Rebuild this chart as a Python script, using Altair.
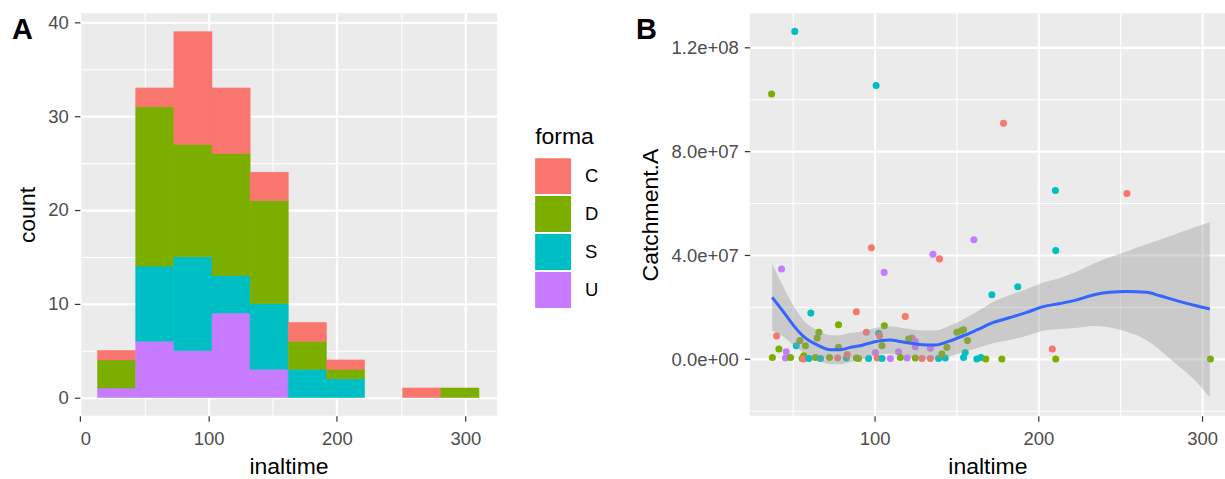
import altair as alt
import pandas as pd

FONT = "Liberation Sans"

# ---------------- Panel A : stacked histogram ----------------
bin_lo = [13.6, 43.3, 73.0, 102.7, 132.4, 162.1, 191.8, 221.5, 251.2, 280.9]
bin_hi = [43.3, 73.0, 102.7, 132.4, 162.1, 191.8, 221.5, 251.2, 280.9, 310.6]
count_C = [1, 2, 12, 7, 3, 2, 1, 0, 1, 0]
count_D = [3, 17, 12, 13, 11, 3, 1, 0, 0, 1]
count_S = [0, 8, 10, 4, 7, 3, 2, 0, 0, 0]
count_U = [1, 6, 5, 9, 3, 0, 0, 0, 0, 0]

formas = ["C", "D", "S", "U"]
colors = ["#F8766D", "#7CAE00", "#00BFC4", "#C77CFF"]

# ---------------- Panel B : scatter + smooth ----------------
pt_x = [51.2, 37.0, 100.9, 178.7, 210.4, 254.1, 160.6, 135.6, 139.6, 98.0,
        105.8, 43.1, 210.6, 187.4, 171.6, 61.0, 88.8, 118.7, 77.9, 105.9,
        40.1, 65.9, 64.9, 54.3, 57.7, 52.1, 41.5, 46.0, 37.5, 45.5,
        48.6, 55.7, 56.7, 56.5, 59.8, 63.8, 66.9, 72.4, 77.4, 77.9,
        82.7, 83.2, 88.8, 94.9, 102.4, 103.0, 122.8, 124.8, 120.7, 124.8,
        134.0, 150.2, 152.9, 144.1, 104.5, 100.4, 114.6, 90.2, 96.3, 101.5,
        104.5, 109.6, 115.7, 119.8, 124.8, 128.9, 134.0, 139.0, 143.1, 141.1,
        154.3, 154.3, 156.7, 208.5, 155.3, 162.4, 164.9, 167.9, 177.7, 210.6,
        305.1]
pt_y = [126.3, 102.2, 105.4, 90.9, 65.0, 63.8, 46.0, 40.4, 38.6, 42.9,
        33.4, 34.7, 41.8, 27.9, 24.8, 17.7, 18.2, 16.4, 13.2, 12.8,
        8.9, 10.3, 8.1, 7.1, 5.1, 5.1, 3.9, 2.8, 0.6, 0.4,
        0.6, 0.2, 1.3, 0.0, 0.2, 0.6, 0.2, 0.6, 0.4, 4.5,
        0.4, 1.7, 0.4, 10.3, 9.9, 9.0, 8.1, 6.8, 7.7, 4.7,
        4.2, 10.3, 10.9, 4.5, 5.1, 2.5, 2.8, 0.2, 0.2, 0.4,
        0.2, 0.2, 0.6, 0.4, 0.4, 0.2, 0.2, 0.2, 0.4, 1.9,
        0.6, 11.3, 7.1, 3.9, 2.5, 0.0, 0.6, 0.0, 0.0, 0.0,
        0.0]
pt_forma = ["S", "D", "S", "C", "S", "C", "U", "U", "C", "C",
            "U", "U", "S", "S", "S", "S", "C", "C", "D", "D",
            "C", "D", "D", "D", "D", "S", "D", "U", "D", "U",
            "D", "D", "D", "C", "S", "D", "S", "D", "C", "D",
            "S", "C", "D", "C", "S", "C", "C", "U", "D", "U",
            "U", "D", "D", "D", "D", "U", "U", "D", "S", "C",
            "S", "U", "D", "U", "D", "C", "C", "S", "S", "D",
            "S", "D", "D", "C", "S", "S", "S", "D", "D", "D",
            "D"]

sm_x = [37.4, 44.5, 50.6, 56.7, 64.9, 73.0, 79.1, 85.2, 90.0, 98.4,
        108.5, 118.7, 128.9, 137.0, 145.1, 154.3, 162.4, 172.6, 182.7, 192.9,
        203.0, 213.2, 223.4, 233.5, 243.7, 253.9, 266.1, 274.2, 284.4, 294.5,
        304.7]
sm_y = [23.8, 18.0, 12.8, 8.6, 5.4, 3.6, 3.6, 4.5, 5.0, 6.4,
        7.3, 6.4, 5.5, 5.4, 6.8, 9.0, 11.2, 14.1, 16.0, 18.0,
        20.2, 21.4, 22.8, 24.7, 25.7, 26.0, 25.7, 24.4, 22.5, 20.8,
        19.3]
sm_lo = [11.0, 8.5, 5.3, 2.4, -0.4, -2.0, -2.0, -1.1, -0.4, 1.1,
         2.0, 1.0, 0.0, -0.2, 1.0, 2.7, 4.2, 6.1, 7.3, 9.0,
         10.9, 11.6, 12.0, 12.7, 12.2, 10.5, 7.2, 3.5, -2.0, -7.5,
         -14.8]
sm_hi = [36.6, 27.5, 20.3, 14.8, 11.2, 9.2, 9.2, 10.1, 10.4, 11.7,
         12.6, 11.8, 11.0, 11.0, 12.6, 15.3, 18.2, 22.1, 24.7, 27.0,
         29.5, 31.2, 33.6, 36.7, 39.2, 41.5, 44.2, 46.0, 48.3, 50.6,
         52.7]

# tick definitions
a_x_major = [0, 100, 200, 300]
a_x_minor = [50, 150, 250]
a_y_major = [0, 10, 20, 30, 40]
a_y_minor = [5, 15, 25, 35]
b_x_major = [100, 200, 300]
b_x_minor = [50, 150, 250]
b_y_major = [0, 40000000, 80000000, 120000000]
b_y_labels = ["0.0e+00", "4.0e+07", "8.0e+07", "1.2e+08"]
b_y_minor = [-20000000, 20000000, 60000000, 100000000]

# ---------------- build tables ----------------
counts_by_forma = {"C": count_C, "D": count_D, "S": count_S, "U": count_U}
rows = []
for i, (lo, hi) in enumerate(zip(bin_lo, bin_hi)):
    base = 0
    for f in ["U", "S", "D", "C"]:  # ggplot stacks U at the bottom, C on top
        c = counts_by_forma[f][i]
        if c > 0:
            rows.append({"lo": lo, "hi": hi, "forma": f, "count": c,
                         "y0": base, "y1": base + c})
            base += c
hist_df = pd.DataFrame(rows)

pts_df = pd.DataFrame({"x": pt_x, "y": [v * 1e6 for v in pt_y], "forma": pt_forma})
sm_df = pd.DataFrame({"x": sm_x,
                      "y": [v * 1e6 for v in sm_y],
                      "lo": [v * 1e6 for v in sm_lo],
                      "hi": [v * 1e6 for v in sm_hi]})


def js_list(vals):
    return "[" + ",".join(str(v) for v in vals) + "]"


def make_axis(major, minor, title_pad, label_pad, label_expr=None):
    test = "indexof(" + js_list(major) + ", datum.value) >= 0"
    if label_expr is None:
        label_expr = "(" + test + ") ? datum.label : ''"
    return alt.Axis(
        values=sorted(major + minor),
        labelExpr=label_expr,
        gridWidth={"condition": {"test": test, "value": 2.2}, "value": 1.1},
        tickOpacity={"condition": {"test": test, "value": 1}, "value": 0},
        labelPadding=label_pad,
        titlePadding=title_pad,
    )


b_label_expr = " : ".join(
    "datum.value == {} ? '{}'".format(v, l) for v, l in zip(b_y_major, b_y_labels)
) + " : ''"

color_scale = alt.Scale(domain=formas, range=colors)

# ---------------- Panel A ----------------
bars = alt.Chart(hist_df).mark_rect(strokeWidth=0.6).encode(
    x=alt.X("lo:Q", title="inaltime",
            scale=alt.Scale(domain=[-0.2, 324.8], nice=False, zero=False),
            axis=make_axis(a_x_major, a_x_minor, 8, 8)),
    x2="hi:Q",
    y=alt.Y("y0:Q", title="count",
            scale=alt.Scale(domain=[-1.95, 40.95], nice=False, zero=False),
            axis=make_axis(a_y_major, a_y_minor, 8, 6)),
    y2="y1:Q",
    color=alt.Color("forma:N", scale=color_scale,
                    legend=alt.Legend(title="forma", orient="none", legendX=456, legendY=113,
                                      symbolType="square", symbolSize=1296, symbolStrokeWidth=0,
                                      rowPadding=2, labelOffset=14, titlePadding=9, padding=0,
                                      titleFont=FONT, labelFont=FONT, titleFontSize=23,
                                      labelFontSize=18.5, titleColor="black", labelColor="black",
                                      titleFontWeight="normal")),
    stroke=alt.Stroke("forma:N", scale=color_scale, legend=None),
)

lab_a = alt.Chart(pd.DataFrame({"label": ["A"]})).mark_text(
    align="left", baseline="top", fontSize=29, fontWeight="bold", font=FONT, color="black"
).encode(text="label:N", x=alt.value(-68), y=alt.value(3))

panel_a = alt.layer(bars, lab_a).properties(width=418, height=403)

# ---------------- Panel B ----------------
xb = alt.X("x:Q", title="inaltime",
           scale=alt.Scale(domain=[23.7, 314.0], nice=False, zero=False),
           axis=make_axis(b_x_major, b_x_minor, 8, 8))
yb_scale = alt.Scale(domain=[-21850000, 133250000], nice=False, zero=False)

points = alt.Chart(pts_df).mark_circle(size=50, opacity=1).encode(
    x=xb,
    y=alt.Y("y:Q", title="Catchment.A", scale=yb_scale,
            axis=make_axis(b_y_major, b_y_minor, 9, 6, b_label_expr)),
    color=alt.Color("forma:N", scale=color_scale, legend=None),
)

band = alt.Chart(sm_df).mark_area(color="#999999", opacity=0.4, interpolate="monotone").encode(
    x="x:Q", y="lo:Q", y2="hi:Q"
)

line = alt.Chart(sm_df).mark_line(color="#3366FF", strokeWidth=3, interpolate="monotone").encode(
    x="x:Q", y="y:Q"
)

lab_b = alt.Chart(pd.DataFrame({"label": ["B"]})).mark_text(
    align="left", baseline="top", fontSize=29, fontWeight="bold", font=FONT, color="black"
).encode(text="label:N", x=alt.value(-114), y=alt.value(3))

panel_b = alt.layer(points, band, line, lab_b).properties(width=476, height=403)

chart = alt.hconcat(panel_a, panel_b, spacing=37).resolve_scale(
    color="independent", stroke="independent"
).resolve_legend(color="independent").properties(
    padding={"left": 12, "top": 12, "right": 0, "bottom": 0},
    background="white",
).configure_view(
    fill="#EBEBEB", strokeWidth=0
).configure_axis(
    domain=False,
    gridColor="white",
    labelFont=FONT, labelFontSize=18.5, labelColor="#4D4D4D",
    titleFont=FONT, titleFontSize=23, titleColor="black", titleFontWeight="normal",
    tickColor="#333333", tickSize=5.5, tickWidth=1.2,
)

chart.save("out.html", embed_options={"renderer": "svg", "actions": False})
